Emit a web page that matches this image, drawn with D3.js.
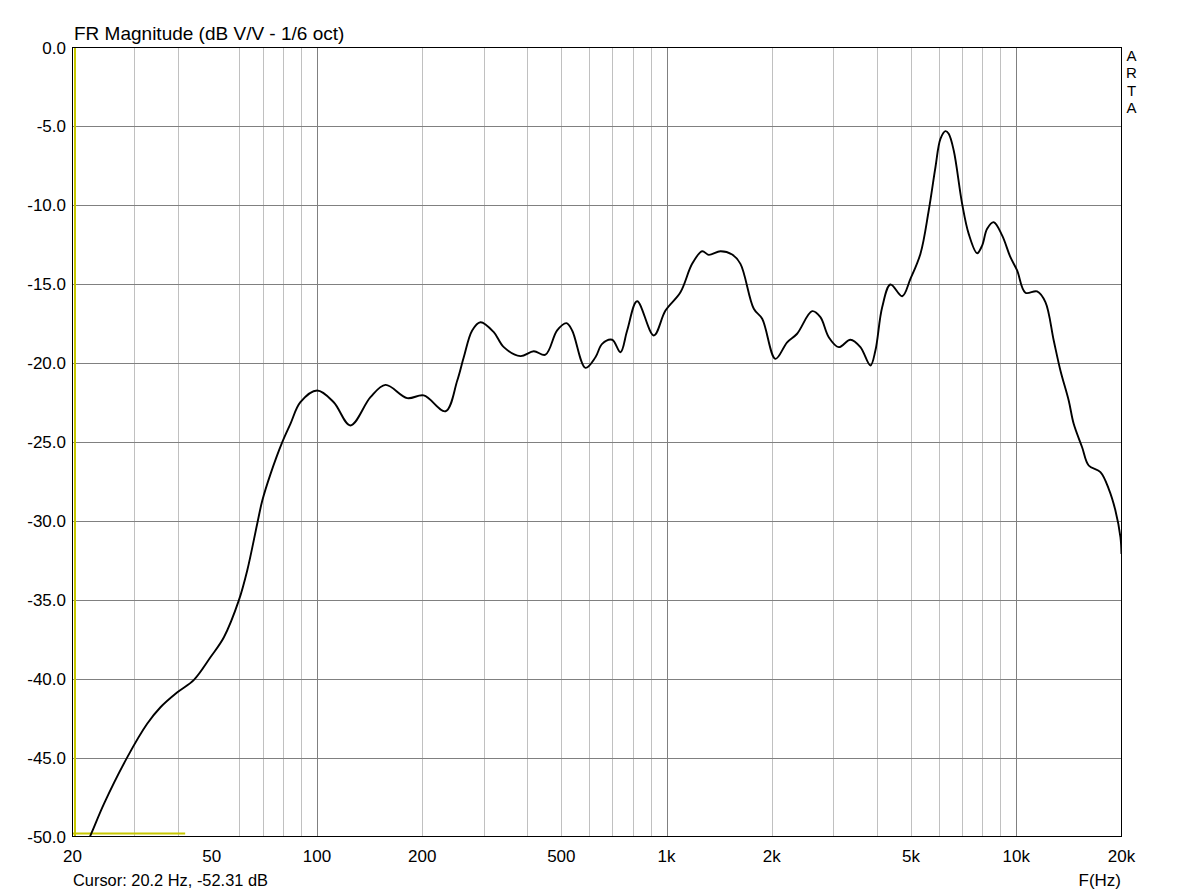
<!DOCTYPE html>
<html>
<head>
<meta charset="utf-8">
<script src="https://cdn.jsdelivr.net/npm/d3@7"></script>
<style>
  html, body { margin: 0; padding: 0; background: #fff; }
  svg { display: block; }
  text { font-family: "Liberation Sans", Arial, sans-serif; fill: #000; }
</style>
</head>
<body>
<svg id="chart" width="1193" height="894"></svg>
<script>
// ---- data ----
const freqHz = [20, 22.5, 24.6, 28.7, 32.7, 35.7, 39.9, 44.5, 49.6, 54.2, 59.8, 63.2, 67.5, 69.8, 73.7, 79.6, 84.0, 89.7,
  100.2, 111.7, 124.7, 142.3, 157.1, 181.2, 202.1, 233.3, 252.0, 263.0, 278.0, 293.6, 320.5, 342.4, 382.0, 417.0, 450.4,
  486.4, 517.2, 537.0, 586.2, 626.0, 654.2, 698.8, 738.2, 771.4, 823.8, 919.2, 992.8, 1095.6, 1183.4, 1264, 1320, 1425.8,
  1540, 1626.6, 1776, 1877, 2048, 2212, 2362, 2608, 2754, 2910, 3108, 3356, 3584, 3828, 3956, 4136, 4368, 4718, 4982,
  5322, 5620, 5874, 6070, 6274, 6410, 6626, 7002, 7312, 7730, 7988, 8256, 8622, 9112, 9624, 10058, 10622, 11474, 12118,
  12800, 13376, 14126, 14598, 15430, 16116, 17408, 18384, 19214, 19860, 20000];
const magDb = [-52.4, -49.94, -47.93, -44.97, -42.86, -41.81, -40.86, -40.07, -38.64, -37.37, -35.04, -33.14, -30.18, -28.71, -27.02, -25.01, -23.85, -22.48,
  -21.74, -22.48, -23.95, -22.16, -21.38, -22.22, -22.05, -23.05, -21.10, -19.63, -17.93, -17.41, -18.04, -18.99, -19.56, -19.25, -19.47,
  -17.93, -17.47, -17.93, -20.30, -19.63, -18.78, -18.52, -19.31, -17.93, -16.08, -18.25, -16.67, -15.51, -13.71, -12.91, -13.14, -12.91,
  -13.12, -13.71, -16.56, -17.19, -19.73, -18.68, -18.14, -16.71, -17.09, -18.36, -18.99, -18.52, -18.99, -20.15, -19.20, -16.46, -15.02, -15.76, -14.66,
  -13.07, -10.33, -7.59, -5.79, -5.30, -5.47, -6.53, -9.90, -11.81, -13.04, -12.55, -11.49, -11.07, -11.91, -13.29, -14.13, -15.54, -15.46, -16.14,
  -18.57, -20.47, -22.37, -23.85, -25.33, -26.49, -26.91, -27.97, -29.34, -31.03, -32.1];

const xTickValues = [20, 50, 100, 200, 500, 1000, 2000, 5000, 10000, 20000];
const xTickLabels = ["20", "50", "100", "200", "500", "1k", "2k", "5k", "10k", "20k"];
const yTickValues = [0, -5, -10, -15, -20, -25, -30, -35, -40, -45, -50];
const minorFreqs = [30, 40, 60, 70, 80, 90, 200, 300, 400, 500, 600, 700, 800, 900, 2000, 3000, 4000, 5000, 6000, 7000, 8000, 9000];
const majorFreqs = [100, 1000, 10000];
const titleText = "FR Magnitude (dB V/V - 1/6 oct)";
const cursorText = "Cursor: 20.2 Hz, -52.31 dB";
const xAxisTitle = "F(Hz)";
const brandLetters = ["A", "R", "T", "A"];
const cursorFreq = 20.2;
const cursorMarkerEnd = 42;

// ---- layout ----
const pL = 72.5, pR = 1121.5, pT = 47.5, pB = 836.5;
const svg = d3.select("#chart");

const x = d3.scaleLog().domain([20, 20000]).range([pL, pR]);
const y = d3.scaleLinear().domain([-50, 0]).range([pB, pT]);

// minor vertical grid
svg.append("g").selectAll("line").data(minorFreqs).join("line")
  .attr("x1", d => Math.round(x(d)) + 0.5).attr("x2", d => Math.round(x(d)) + 0.5)
  .attr("y1", pT).attr("y2", pB)
  .attr("stroke", "#c0c0c0").attr("stroke-width", 1);

// major vertical grid
svg.append("g").selectAll("line").data(majorFreqs).join("line")
  .attr("x1", d => Math.round(x(d)) + 0.5).attr("x2", d => Math.round(x(d)) + 0.5)
  .attr("y1", pT).attr("y2", pB)
  .attr("stroke", "#808080").attr("stroke-width", 1);

// horizontal grid
svg.append("g").selectAll("line").data(yTickValues.slice(1, -1)).join("line")
  .attr("x1", pL).attr("x2", pR)
  .attr("y1", d => Math.round(y(d)) + 0.5).attr("y2", d => Math.round(y(d)) + 0.5)
  .attr("stroke", "#808080").attr("stroke-width", 1);

// cursor markers (yellow)
svg.append("line")
  .attr("x1", x(cursorFreq) + 1).attr("x2", x(cursorFreq) + 1)
  .attr("y1", pT).attr("y2", pB)
  .attr("stroke", "#c8c800").attr("stroke-width", 2);
svg.append("line")
  .attr("x1", pL).attr("x2", x(cursorMarkerEnd))
  .attr("y1", pB - 3).attr("y2", pB - 3)
  .attr("stroke", "#c8c800").attr("stroke-width", 2);

// clip
svg.append("clipPath").attr("id", "clip").append("rect")
  .attr("x", pL).attr("y", pT).attr("width", pR - pL).attr("height", pB - pT);

const data = freqHz.map((f, i) => [f, magDb[i]]);
const line = d3.line().x(d => x(d[0])).y(d => y(d[1])).curve(d3.curveCatmullRom.alpha(0.5));
svg.append("path").datum(data)
  .attr("clip-path", "url(#clip)")
  .attr("d", line)
  .attr("fill", "none").attr("stroke", "#000").attr("stroke-width", 1.9)
  .attr("stroke-linejoin", "round");

// frame
svg.append("rect").attr("x", pL).attr("y", pT).attr("width", pR - pL).attr("height", pB - pT)
  .attr("fill", "none").attr("stroke", "#000").attr("stroke-width", 1);

// y tick labels
svg.append("g").selectAll("text").data(yTickValues).join("text")
  .attr("x", 66).attr("y", d => y(d) + 6)
  .attr("text-anchor", "end").attr("font-size", 17)
  .text(d => d.toFixed(1));

// x tick labels
svg.append("g").selectAll("text").data(xTickValues).join("text")
  .attr("x", d => x(d)).attr("y", 862)
  .attr("text-anchor", "middle").attr("font-size", 17)
  .text((d, i) => xTickLabels[i]);

// title
svg.append("text").attr("x", 74).attr("y", 40).attr("font-size", 19).text(titleText);
// cursor text
svg.append("text").attr("x", 73).attr("y", 886).attr("font-size", 16.4).text(cursorText);
// x axis title
svg.append("text").attr("x", 1121).attr("y", 886).attr("text-anchor", "end").attr("font-size", 17).text(xAxisTitle);
// ARTA (vertical stacked letters)
svg.append("g").selectAll("text").data(brandLetters).join("text")
  .attr("x", 1131.5).attr("y", (d, i) => 61 + i * 17.4)
  .attr("text-anchor", "middle").attr("font-size", 15)
  .text(d => d);
</script>
</body>
</html>
